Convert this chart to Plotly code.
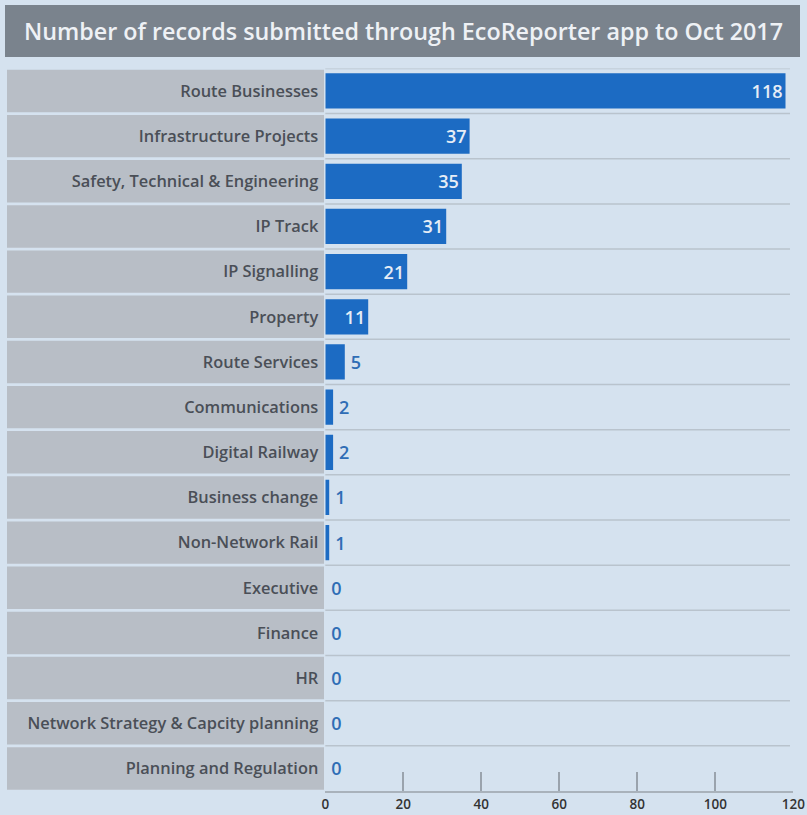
import plotly.graph_objects as go

categories = [
    "Route Businesses", "Infrastructure Projects", "Safety, Technical & Engineering",
    "IP Track", "IP Signalling", "Property", "Route Services", "Communications",
    "Digital Railway", "Business change", "Non-Network Rail", "Executive",
    "Finance", "HR", "Network Strategy & Capcity planning", "Planning and Regulation",
]
values = [118, 37, 35, 31, 21, 11, 5, 2, 2, 1, 1, 0, 0, 0, 0, 0]
x_ticks = [0, 20, 40, 60, 80, 100, 120]
title_text = "Number of records submitted through EcoReporter app to Oct 2017"

W, H = 807, 815
BG = "#d5e2ef"
BAR = "#1c6bc3"
LABEL_BOX = "#b8bec6"
TEXT_DARK = "#4a4f57"

n = len(categories)
positions = list(range(n))  # 0 at top after reversing axis

textpos = ["inside" if v >= 10 else "outside" for v in values]
labels = [str(v) if v >= 10 else "\u2009" + str(v) for v in values]

fig = go.Figure(go.Bar(
    y=positions,
    x=values,
    orientation="h",
    marker=dict(color=BAR, line=dict(width=0)),
    width=0.78,
    text=labels,
    textposition=textpos,
    insidetextanchor="end",
    insidetextfont=dict(color="#e6edf6", size=18, family="Open Sans", weight=600),
    outsidetextfont=dict(color="#2f6db5", size=18, family="Open Sans", weight=600),
    cliponaxis=False,
    hoverinfo="skip",
))

# domains
x0p, x1p = 325.3 / W, 793.3 / W
y_top_px, y_bot_px = 68.4, 791.0
y0p, y1p = (H - y_bot_px) / H, (H - y_top_px) / H

shapes = []
# title box
shapes.append(dict(type="rect", xref="paper", yref="paper",
                   x0=5 / W, x1=800 / W, y0=(H - 57) / H, y1=(H - 5) / H,
                   fillcolor="#7a838d", line=dict(width=0), layer="below"))
# label boxes and separators
for i in positions:
    shapes.append(dict(type="rect", xref="paper", yref="y",
                       x0=7 / W, x1=324 / W, y0=i - 0.47, y1=i + 0.47,
                       fillcolor=LABEL_BOX, line=dict(width=0), layer="below"))
for i in range(n):
    shapes.append(dict(type="line", xref="paper", yref="y",
                       x0=x0p, x1=790 / W, y0=i - 0.5, y1=i - 0.5,
                       line=dict(color="#b9c3cd", width=1.5), layer="below"))

fig.update_layout(
    width=W, height=H,
    autosize=False,
    margin=dict(l=0, r=0, t=0, b=0, pad=0, autoexpand=False),
    paper_bgcolor=BG, plot_bgcolor=BG,
    showlegend=False,
    shapes=shapes,
    annotations=[dict(text=title_text, xref="paper", yref="paper",
                      x=403 / W, y=(H - 31) / H, xanchor="center", yanchor="middle",
                      showarrow=False,
                      font=dict(family="Open Sans", size=23.3, color="#eef1f5", weight=600))],
    xaxis=dict(domain=[x0p, x1p], range=[0, 120], tickvals=x_ticks,
               ticks="inside", ticklen=19, tickcolor="#9aa3ad", tickwidth=1.5,
               showline=True, linecolor="#a9b2bb", linewidth=1.5,
               showgrid=False, zeroline=False, automargin=False,
               tickfont=dict(family="Open Sans", size=13.5, color="#333333", weight=600),
               ticklabelstandoff=0, fixedrange=True),
    yaxis=dict(domain=[y0p, y1p], range=[n - 0.5, -0.5],
               tickvals=positions, ticktext=categories, automargin=False,
               showgrid=False, zeroline=False, showline=False, ticks="",
               tickfont=dict(family="Open Sans", size=16.4, color=TEXT_DARK, weight=600),
               ticklabelstandoff=6, fixedrange=True),
)

fig.write_html("out.html")
